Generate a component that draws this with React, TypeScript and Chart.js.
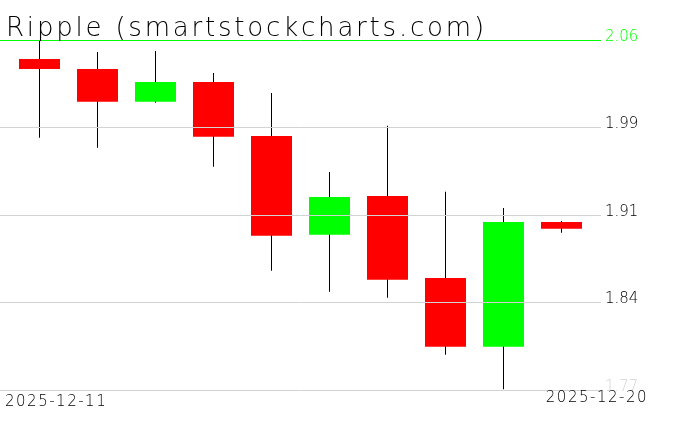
import React, { useEffect, useRef } from "react";
import { Chart, registerables } from "chart.js";

Chart.register(...registerables);

const categories = [
  "2025-12-11",
  "2025-12-12",
  "2025-12-13",
  "2025-12-14",
  "2025-12-15",
  "2025-12-16",
  "2025-12-17",
  "2025-12-18",
  "2025-12-19",
  "2025-12-20",
];
const openValues = [2.0443, 2.036, 2.0089, 2.0252, 1.9805, 1.8987, 1.9307, 1.8628, 1.8059, 1.9092];
const highValues = [2.06, 2.05, 2.0509, 2.0327, 2.0161, 1.9506, 1.989, 1.9343, 1.9208, 1.91];
const lowValues = [1.979, 1.9708, 2.008, 1.955, 1.8689, 1.8515, 1.8465, 1.7993, 1.7706, 1.9003];
const closeValues = [2.036, 2.0089, 2.0252, 1.9799, 1.8979, 1.9299, 1.8614, 1.8059, 1.9092, 1.9037];

const yTickValues = [1.77, 1.8425, 1.915, 1.9875, 2.06];
const yTickLabels = ["1.77", "1.84", "1.91", "1.99", "2.06"];
const titleText = "Ripple (smartstockcharts.com)";

export default function App() {
  const ref = useRef<HTMLCanvasElement>(null);

  useEffect(() => {
    document.body.style.margin = "0";
    const canvas = ref.current;
    if (!canvas) return;
    const isUp = (i: number) => closeValues[i] >= openValues[i];

    const textPlugin = {
      id: "texts",
      afterDraw(chart: any) {
        const ctx = chart.ctx as CanvasRenderingContext2D;
        ctx.save();
        ctx.fillStyle = "#000000";
        ctx.textBaseline = "alphabetic";
        ctx.textAlign = "left";
        ctx.font = "200 26px 'DejaVu Sans'";
        (ctx as any).letterSpacing = "2.8px";
        ctx.fillText(titleText, 6, 36);
        ctx.font = "200 15px 'DejaVu Sans'";
        (ctx as any).letterSpacing = "1.5px";
        ctx.fillText(categories[0], 5, 406);
        ctx.textAlign = "right";
        ctx.fillText(categories[categories.length - 1], 648, 402);
        ctx.restore();
      },
    };

    const chart = new Chart(canvas, {
      type: "bar",
      data: {
        datasets: [
          {
            label: "body",
            data: categories.map((_, i) => ({ x: i, y: [openValues[i], closeValues[i]] })) as any,
            backgroundColor: categories.map((_, i) => (isUp(i) ? "#00ff00" : "#ff0000")),
            borderWidth: 0,
            maxBarThickness: 41,
            grouped: false,
            order: 0,
          } as any,
          {
            label: "wick",
            data: categories.map((_, i) => ({ x: i, y: [lowValues[i], highValues[i]] })) as any,
            backgroundColor: "#000000",
            borderWidth: 0,
            maxBarThickness: 1,
            grouped: false,
            order: 1,
          } as any,
        ],
      },
      options: {
        animation: false,
        responsive: false,
        layout: { padding: { left: 0, top: 40, right: 0, bottom: 41 } },
        plugins: {
          legend: { display: false },
          tooltip: { enabled: false },
          title: { display: false },
        },
        scales: {
          x: {
            type: "linear",
            min: -0.68103,
            max: 9.68103,
            offset: false,
            display: false,
          },
          y: {
            position: "right",
            min: 1.77,
            max: 2.06,
            afterFit: (s: any) => {
              s.width = 75;
            },
            afterBuildTicks: (s: any) => {
              s.ticks = yTickValues.map((v) => ({ value: v }));
            },
            border: { display: false },
            grid: {
              z: 1,
              drawTicks: false,
              lineWidth: 1,
              color: (c: any) => (c.index === yTickValues.length - 1 ? "#00ff00" : "#d3d3d3"),
            },
            ticks: {
              padding: 4,
              labelOffset: -3,
              autoSkip: false,
              crossAlign: "near",
              font: { family: "'DejaVu Sans'", size: 15, weight: "200" as any },
              color: (c: any) =>
                c.index === yTickValues.length - 1 ? "#00ff00" : c.index === 0 ? "#d3d3d3" : "#000000",
              callback: (_v: any, i: number) => yTickLabels[i],
            },
          } as any,
        },
      },
      plugins: [textPlugin],
    });

    return () => chart.destroy();
  }, []);

  return <canvas ref={ref} width={676} height={431} style={{ display: "block" }} />;
}
